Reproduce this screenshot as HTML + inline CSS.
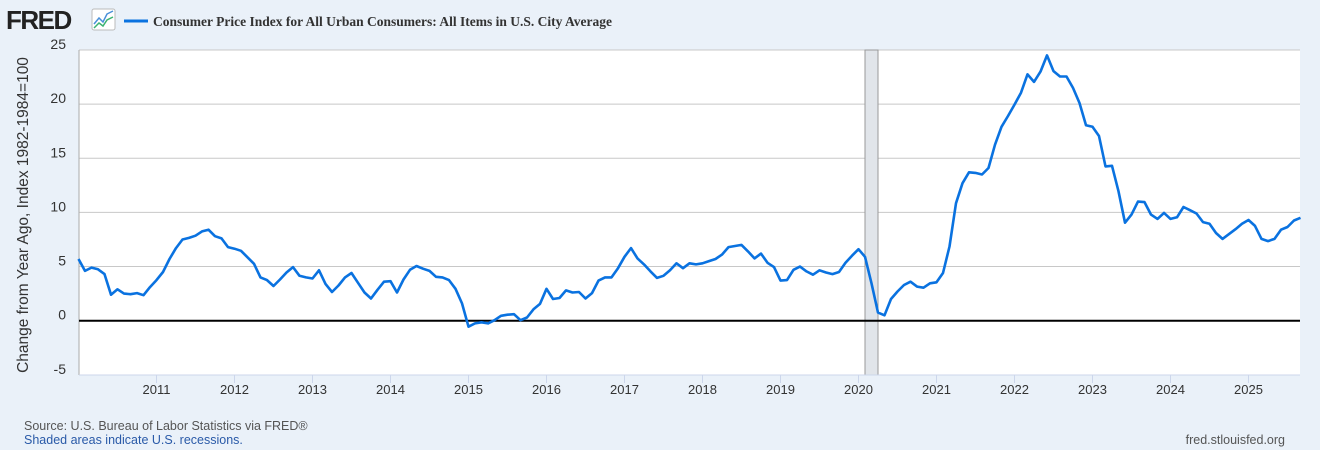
<!DOCTYPE html>
<html><head><meta charset="utf-8"><style>
body{margin:0;width:1320px;height:450px;background:#eaf1f9;overflow:hidden;font-family:"Liberation Sans",sans-serif;}
svg{display:block}
</style></head><body>
<svg width="1320" height="450" xmlns="http://www.w3.org/2000/svg">
<g>
<text x="6" y="29" font-family="Liberation Sans,sans-serif" font-weight="bold" font-size="26" fill="#222" letter-spacing="-1.5">FRED</text>
<g>
<rect x="92" y="9" width="23" height="21" fill="#fff" stroke="#bbb" rx="2"/>
<polyline points="94,24 99,18 103,22 107,14 113,11" fill="none" stroke="#4a90d9" stroke-width="1.5"/>
<polyline points="94,28 99,23 103,26 107,20 113,17" fill="none" stroke="#3cb371" stroke-width="1.5"/>
</g>
<line x1="124" y1="21" x2="148" y2="21" stroke="#0a72e0" stroke-width="3"/>
<text x="153" y="26" font-family="Liberation Serif,serif" font-weight="bold" font-size="13.5" fill="#333">Consumer Price Index for All Urban Consumers: All Items in U.S. City Average</text>
</g>
<rect x="79" y="50" width="1221" height="325" fill="#fff"/>
<g id="grid"></g>
<rect id="rec" fill="#e1e5ea" stroke="#999" stroke-width="1"/>
<line x1="79" y1="50" x2="79" y2="375" stroke="#aaa"/>
<line x1="79" y1="375" x2="1300" y2="375" stroke="#ccd6eb"/>
<g id="yt"></g>
<g id="xt"></g>
<line id="zero" stroke="#000" stroke-width="2"/>
<path id="series" fill="none" stroke="#0a72e0" stroke-width="2.6" stroke-linejoin="round"/>
<text transform="translate(28,215) rotate(-90)" text-anchor="middle" font-size="15.5" fill="#333">Change from Year Ago, Index 1982-1984=100</text>
<text x="24" y="430" font-size="12.5" fill="#555">Source: U.S. Bureau of Labor Statistics via FRED®</text>
<text x="24" y="444" font-size="12.5" fill="#2a5aa8">Shaded areas indicate U.S. recessions.</text>
<text x="1285" y="444" text-anchor="end" font-size="12.5" fill="#555">fred.stlouisfed.org</text>
</svg>
<script>
const startYear = 2010;
const values = [5.7,4.6,4.9,4.75,4.3,2.4,2.9,2.5,2.45,2.55,2.35,3.1,
3.75,4.5,5.7,6.7,7.5,7.65,7.85,8.25,8.4,7.8,7.6,6.8,
6.65,6.45,5.85,5.25,4.0,3.75,3.2,3.8,4.45,4.95,4.15,4.0,
3.9,4.65,3.4,2.65,3.25,4.0,4.4,3.5,2.6,2.05,2.85,3.6,
3.65,2.6,3.8,4.7,5.05,4.8,4.6,4.05,4.0,3.75,2.95,1.6,
-0.55,-0.25,-0.15,-0.25,0.05,0.45,0.55,0.6,0.05,0.3,1.05,1.55,
2.95,2.0,2.1,2.8,2.6,2.65,2.05,2.55,3.7,4.0,4.0,4.85,
5.9,6.7,5.75,5.2,4.55,3.95,4.15,4.65,5.3,4.85,5.3,5.2,
5.3,5.5,5.7,6.1,6.8,6.9,7.0,6.4,5.75,6.2,5.35,4.95,
3.7,3.75,4.7,5.0,4.55,4.25,4.65,4.45,4.3,4.5,5.35,6.0,
6.6,5.9,3.45,0.75,0.5,2.0,2.7,3.3,3.6,3.15,3.05,3.45,
3.55,4.4,6.85,10.85,12.7,13.7,13.65,13.5,14.1,16.25,17.9,18.9,
19.95,21.05,22.75,22.05,23.0,24.5,23.05,22.55,22.55,21.5,20.1,18.05,
17.9,17.05,14.25,14.3,11.95,9.05,9.8,11.0,10.95,9.8,9.4,9.95,
9.4,9.55,10.5,10.2,9.9,9.1,8.95,8.1,7.55,8.0,8.45,8.95,
9.3,8.75,7.55,7.35,7.55,8.4,8.65,9.25,9.5];
const yTicks = [25,20,15,10,5,0,-5];
const xYears = [2011,2012,2013,2014,2015,2016,2017,2018,2019,2020,2021,2022,2023,2024,2025];
const recession = [2020+1/12, 2020+3/12];
const NS='http://www.w3.org/2000/svg';
const X0=78.5, PXY=78, Y0=320.7, PXU=10.83;
const xOfMonth = m => X0 + m*PXY/12;
const xOfYear = t => X0 + (t-startYear)*PXY;
const yOf = v => Y0 - v*PXU;
function mk(tag, attrs, parent){const e=document.createElementNS(NS,tag);for(const k in attrs)e.setAttribute(k,attrs[k]);parent.appendChild(e);return e;}
const grid=document.getElementById('grid'), yt=document.getElementById('yt'), xt=document.getElementById('xt');
yTicks.forEach(v=>{
  if(v!==0&&v!==-5){const l=mk('line',{x1:79,x2:1300,y1:yOf(v),y2:yOf(v),stroke:'#c8c8c8','stroke-width':1},grid);
  
  }
  const t=mk('text',{x:66,y:yOf(v)-1,'text-anchor':'end','font-size':14,fill:'#333'},yt);
  t.textContent=v;
  
  
});
xYears.forEach(yr=>{
  const x=xOfYear(yr);
  const l=mk('line',{x1:x,x2:x,y1:375,y2:383,stroke:'#ccd6eb'},xt);
  
  
  const t=mk('text',{x:x,y:394,'text-anchor':'middle','font-size':13,fill:'#333'},xt);
  t.textContent=yr;
  
  
});
const rec=document.getElementById('rec');
rec.setAttribute('x',xOfYear(recession[0]));rec.setAttribute('width',xOfYear(recession[1])-xOfYear(recession[0]));
rec.setAttribute('y',50);rec.setAttribute('height',325);
const z=document.getElementById('zero');
z.setAttribute('x1',79);z.setAttribute('x2',1300);z.setAttribute('y1',yOf(0));z.setAttribute('y2',yOf(0));
document.getElementById('series').setAttribute('d',values.map((v,i)=>(i?'L':'M')+xOfMonth(i).toFixed(1)+','+yOf(v).toFixed(1)).join(''));
</script>
</body></html>
